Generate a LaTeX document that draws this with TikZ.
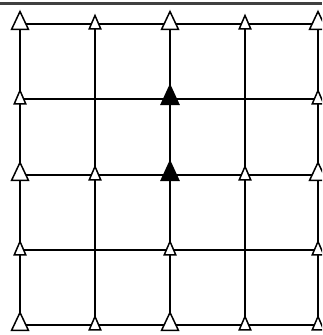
\documentclass[tikz,border=0pt]{standalone}
\begin{document}
\begin{tikzpicture}[x=1pt,y=1pt,
  grid/.style={line width=1.4pt, black},
  boldseg/.style={line width=2.4pt, black},
  edge/.style={line width=2.2pt, black!75},
  tri/.style={line width=1.5pt, black, fill=white, line join=miter},
  ftri/.style={line width=1.2pt, black, fill=black, line join=miter},
  bigtri/.pic={\draw[tri] (-8.5,-5.5) -- (0,12.5) -- (8.5,-5.5) -- cycle;},
  smalltri/.pic={\draw[tri] (-5.8,-5) -- (0,8.5) -- (5.8,-5) -- cycle;},
  filltri/.pic={\draw[ftri] (-9,-5.5) -- (0,14) -- (9,-5.5) -- cycle;}
]
\useasboundingbox (0,0) rectangle (322,335);
\clip (0,0) rectangle (322,335);
\fill[white] (0,0) rectangle (322,335);
% top edge line
\coordinate (tl) at (0,331.5);
\coordinate (tr) at (322,331.5);
\draw[edge] (tl) -- (tr);
% grid points c-i-j : i = column 1..5, j = row 1..5 (top to bottom)
\foreach \i/\x in {1/20,2/95,3/170,4/245,5/318}{
  \foreach \j/\y in {1/311,2/236,3/160,4/85,5/10}{
    \coordinate (c-\i-\j) at (\x,\y);
  }
}
% vertical lines
\foreach \i in {1,2,3,4,5}{\draw[grid] (c-\i-1) -- (c-\i-5);}
% horizontal lines
\foreach \j in {1,2,3,4,5}{\draw[grid] (c-1-\j) -- (c-5-\j);}
\draw[boldseg] (c-3-2) -- (c-3-3);
% triangles
\foreach \n in {c-1-1,c-3-1,c-5-1,c-1-3,c-5-3,c-1-5,c-3-5}{\pic at (\n) {bigtri};}
\foreach \n in {c-2-1,c-4-1,c-1-2,c-5-2,c-2-3,c-4-3,c-1-4,c-3-4,c-5-4,c-2-5,c-4-5,c-5-5}{\pic at (\n) {smalltri};}
\foreach \n in {c-3-2,c-3-3}{\pic at (\n) {filltri};}
\end{tikzpicture}
\end{document}
